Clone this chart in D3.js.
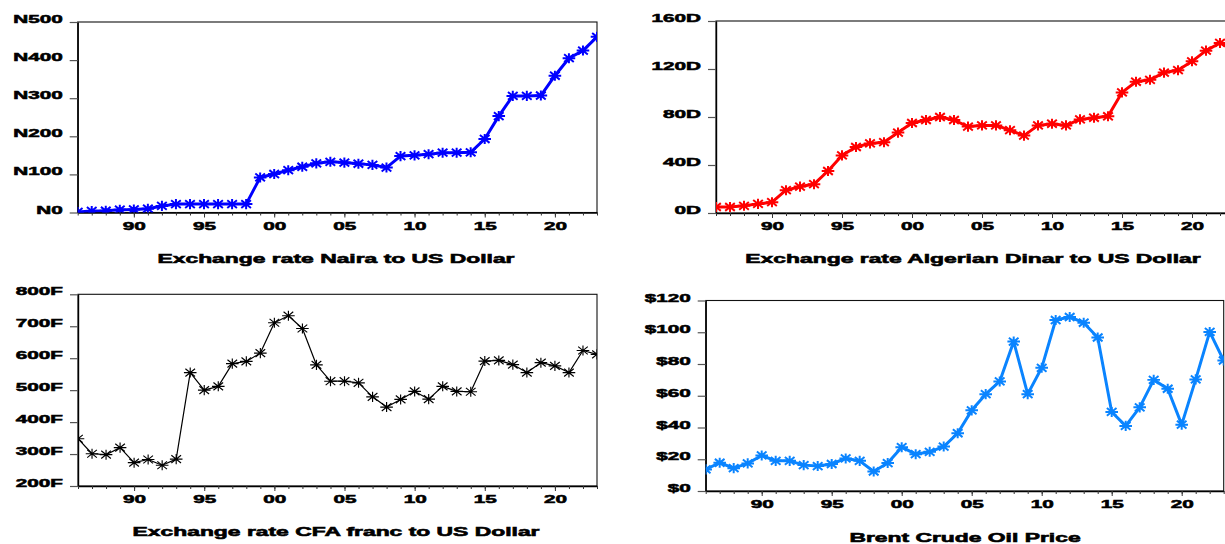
<!DOCTYPE html>
<html><head><meta charset="utf-8">
<script src="https://cdn.jsdelivr.net/npm/d3@7"></script>
<style>
body{margin:0;background:#fff}
svg{display:block}
text{font-family:"Liberation Sans",Arial,sans-serif;font-weight:bold;fill:#000}
</style>
</head><body>
<svg id="chart" width="1225" height="544"></svg>
<script>
// ---------------- data ----------------
const years = [1986,1987,1988,1989,1990,1991,1992,1993,1994,1995,1996,1997,1998,1999,2000,2001,2002,2003,2004,2005,2006,2007,2008,2009,2010,2011,2012,2013,2014,2015,2016,2017,2018,2019,2020,2021,2022,2023];

const nairaValues = [1.5,4,4.5,7.4,8,9.9,17.3,22,22,22,22,22,22,92,101,111,120,129,133,131,128,125,118,148,150,153,157,157,158,193,253,306,306,307,359,405,425,461];
const dinarValues = [5,5,6,7.6,9,19,22,24,35,48,55,58,59,67,75,77.5,80,77.5,72,73,73,69,64.5,73,74.4,73,78,79.4,80.6,100.5,109.4,111,117,119,126.4,135.3,141.7,136];
const cfaValues = [348,301,298,320,273,283,265,284,555,500,512,583,590,616,711,733,693,579,528,528,523,479,447,471,496,472,512,496,495,591,593,580,555,586,576,555,624,612];
const brentValues = [13.6,17.8,14.4,17.4,22.4,19,19,16.3,15.7,17,20.5,19,12.3,17.6,27.6,23.2,24.7,28,36.4,50.8,61,69,94.1,61,77.6,107.7,109.6,106,96.7,49.8,41,52.7,70,64.4,41.8,70.3,100.2,82.2];

const xMajorTicks = [1990,1995,2000,2005,2010,2015,2020];
const xMajorLabels = ["90","95","00","05","10","15","20"];

const nairaTicks = [0,100,200,300,400,500];
const nairaTickLabels = ["N0","N100","N200","N300","N400","N500"];
const dinarTicks = [0,40,80,120,160];
const dinarTickLabels = ["0D","40D","80D","120D","160D"];
const cfaTicks = [200,300,400,500,600,700,800];
const cfaTickLabels = ["200F","300F","400F","500F","600F","700F","800F"];
const brentTicks = [0,20,40,60,80,100,120];
const brentTickLabels = ["$0","$20","$40","$60","$80","$100","$120"];

const titles = ["Exchange rate Naira to US Dollar","Exchange rate Algerian Dinar to US Dollar","Exchange rate CFA franc to US Dollar","Brent Crude Oil Price"];

// ---------------- layout / style ----------------
const panels = [
  {values:nairaValues, ticks:nairaTicks, labels:nairaTickLabels, title:titles[0],
   left:77.7, right:597, top:22, bottom:212.5, yMin:0, yMax:500,
   color:"#0000ff", lw:3, mw:1.9, ms:1.05, titleX:336, titleY:263},
  {values:dinarValues, ticks:dinarTicks, labels:dinarTickLabels, title:titles[1],
   left:716, right:1234, top:21, bottom:213, yMin:0, yMax:160,
   color:"#ff0000", lw:3, mw:1.9, ms:1.05, titleX:973, titleY:263},
  {values:cfaValues, ticks:cfaTicks, labels:cfaTickLabels, title:titles[2],
   left:78, right:597, top:294.3, bottom:486, yMin:200, yMax:800,
   color:"#000000", lw:1.2, mw:1.1, ms:1.05, titleX:336, titleY:535.5},
  {values:brentValues, ticks:brentTicks, labels:brentTickLabels, title:titles[3],
   left:705.7, right:1223.7, top:300.5, bottom:491, yMin:0, yMax:120,
   color:"#0a84ff", lw:3, mw:1.9, ms:1.05, titleX:965, titleY:542}
];

const TICK_SX = 1.8, TITLE_SX = 1.76;
const markerPath = "M-6,0H6M0,-4.8V4.8M-4.6,-3.7L4.6,3.7M-4.6,3.7L4.6,-3.7";

const svg = d3.select("#chart");

panels.forEach((p, idx) => {
  const x = d3.scaleLinear().domain([years[0], years[years.length-1]]).range([p.left, p.right]);
  const y = d3.scaleLinear().domain([p.yMin, p.yMax]).range([p.bottom, p.top]);
  const g = svg.append("g");

  const clipId = "clip" + idx;
  svg.append("defs").append("clipPath").attr("id", clipId)
    .append("rect").attr("x", p.left).attr("y", p.top)
    .attr("width", p.right - p.left).attr("height", p.bottom - p.top);

  // frame
  g.append("rect").attr("x", p.left).attr("y", p.top)
    .attr("width", p.right - p.left).attr("height", p.bottom - p.top)
    .attr("fill", "none").attr("stroke", "#111").attr("stroke-width", 1.1);

  // y axis
  const yAxis = d3.axisLeft(y).tickValues(p.ticks).tickSize(8).tickSizeOuter(0)
    .tickFormat((d, i) => p.labels[i]);
  const ya = g.append("g").attr("transform", `translate(${p.left},0)`).call(yAxis);
  ya.select(".domain").attr("stroke", "#000").attr("stroke-width", 1.4);
  ya.selectAll(".tick line").attr("stroke", "#555").attr("stroke-width", 1.2);
  ya.selectAll(".tick text")
    .attr("x", 0).attr("dy", null).attr("y", 0)
    .attr("text-anchor", "end")
    .attr("font-size", 11.5)
    .attr("font-family", "Liberation Sans, Arial, sans-serif")
    .attr("font-weight", "bold")
    .attr("stroke", "#000").attr("stroke-width", 0.55)
    .attr("transform", `translate(-15,0.5) scale(${TICK_SX},1)`);

  // x axis minor ticks
  const xMinor = d3.axisBottom(x).tickValues(years).tickSize(3).tickSizeOuter(0).tickFormat("");
  const xm = g.append("g").attr("transform", `translate(0,${p.bottom})`).call(xMinor);
  xm.select(".domain").attr("stroke", "#000").attr("stroke-width", 1.4);
  xm.selectAll(".tick line").attr("stroke", "#333");

  // x axis major ticks + labels
  const xMajor = d3.axisBottom(x).tickValues(xMajorTicks).tickSize(5).tickSizeOuter(0)
    .tickFormat((d, i) => xMajorLabels[i]);
  const xM = g.append("g").attr("transform", `translate(0,${p.bottom})`).call(xMajor);
  xM.select(".domain").remove();
  xM.selectAll(".tick line").attr("stroke", "#333");
  xM.selectAll(".tick text")
    .attr("y", 0).attr("dy", null)
    .attr("font-size", 11.5)
    .attr("font-family", "Liberation Sans, Arial, sans-serif")
    .attr("font-weight", "bold")
    .attr("stroke", "#000").attr("stroke-width", 0.55)
    .attr("transform", `translate(0,17) scale(${TICK_SX},1)`);

  // series
  const plot = g.append("g").attr("clip-path", `url(#${clipId})`);
  const line = d3.line().x((d, i) => x(years[i])).y(d => y(d));
  plot.append("path").datum(p.values).attr("d", line)
    .attr("fill", "none").attr("stroke", p.color).attr("stroke-width", p.lw)
    .attr("stroke-linejoin", "round");
  plot.selectAll("path.mk").data(p.values).join("path").attr("class", "mk")
    .attr("d", markerPath)
    .attr("transform", (d, i) => `translate(${x(years[i])},${y(d)}) scale(${p.ms})`)
    .attr("fill", "none").attr("stroke", p.color).attr("stroke-width", p.mw);

  // title
  g.append("text").text(p.title)
    .attr("text-anchor", "middle")
    .attr("font-size", 13)
    .attr("stroke", "#000").attr("stroke-width", 0.6)
    .attr("transform", `translate(${p.titleX},${p.titleY}) scale(${TITLE_SX},1)`);
});
</script>
</body></html>
